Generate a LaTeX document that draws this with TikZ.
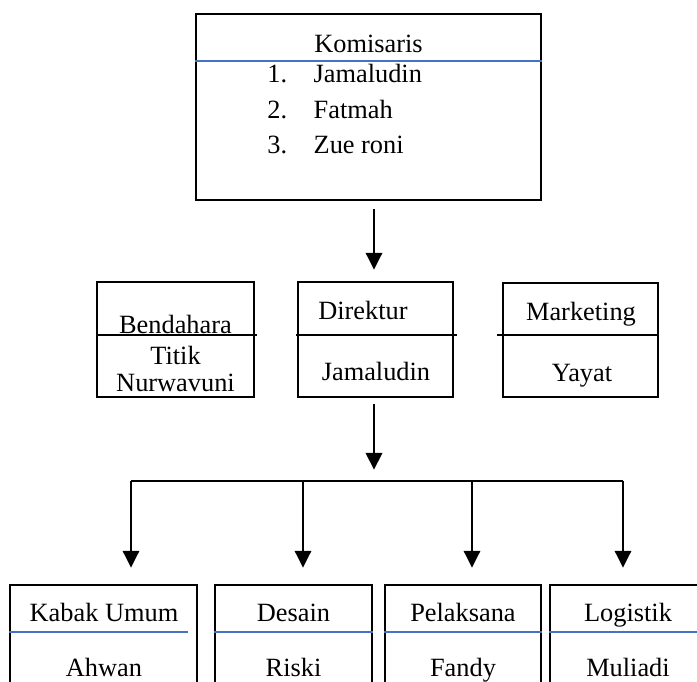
\documentclass[tikz,border=0pt]{standalone}
\usepackage{fontspec}
\setmainfont{Liberation Serif}
\usetikzlibrary{arrows.meta, positioning, calc}
\definecolor{lineblue}{RGB}{68,114,196}

\begin{document}
\begin{tikzpicture}[x=0.016cm, y=-0.016cm,
    box/.style={draw, line width=1pt, inner sep=0pt},
    lbl/.style={inner sep=0pt, anchor=base, font=\fontsize{12}{16}\selectfont},
    arr/.style={-{Triangle[length=2.7mm, width=2.6mm]}, line width=1.2pt},
    blueline/.style={lineblue, line width=1pt},
    blackline/.style={line width=1pt}]
    \clip (0,0) rectangle (697,682);

    % Komisaris
    \node[box, minimum width=5.52cm, minimum height=2.976cm] (kom) at (368.5,107) {};
    \draw[blueline] ($(kom.north west)+(0,48)$) -- ($(kom.north east)+(0,48)$);
    \node[lbl] (komT) at (368.5,53) {Komisaris};
    \node[lbl, anchor=base west] (komL) at (267,83) {%
        \begin{tabular}[t]{@{}p{0.74cm}@{}l@{}}
        1. & Jamaludin\\
        2. & Fatmah\\
        3. & Zue roni
        \end{tabular}};

    % Middle row
    \node[box, minimum width=2.512cm, minimum height=1.84cm] (bend) at (175.5,339.5) {};
    \node[box, minimum width=2.48cm, minimum height=1.84cm] (dir) at (375.5,339.5) {};
    \node[box, minimum width=2.48cm, minimum height=1.824cm] (mkt) at (580.5,340) {};
    \draw[blackline] ($(bend.north west)+(0,54)$) -- ($(bend.north east)+(2,54)$);
    \draw[blackline] ($(dir.north west)+(-1,54)$) -- ($(dir.north east)+(3,54)$);
    \draw[blackline] ($(mkt.north west)+(-5,53)$) -- ($(mkt.north east)+(0,53)$);
    \node[lbl] (bendT) at (175.5,334) {Bendahara};
    \node[lbl, anchor=center, align=center, font=\fontsize{12}{12.2}\selectfont] (bendN) at (175.5,369) {Titik\\Nurwavuni};
    \node[lbl] (dirT) at (363,320) {Direktur};
    \node[lbl] (dirN) at (376,381) {Jamaludin};
    \node[lbl] (mktT) at (581,321) {Marketing};
    \node[lbl] (mktN) at (582,382) {Yayat};

    % Bottom row
    \node[box, minimum width=2.992cm, minimum height=1.84cm] (kab) at (103.5,642.5) {};
    \node[box, minimum width=2.512cm, minimum height=1.84cm] (des) at (293.5,642.5) {};
    \node[box, minimum width=2.496cm, minimum height=1.84cm] (pel) at (463,642.5) {};
    \node[box, minimum width=2.4cm, minimum height=1.84cm] (logi) at (625,642.5) {};
    \draw[blueline] ($(kab.north west)+(0,48)$) -- ($(kab.north east)+(-10,48)$);
    \foreach \b in {des, pel, logi}
        \draw[blueline] ($(\b.north west)+(0,48)$) -- ($(\b.north east)+(0,48)$);
    \node[lbl] (kabT) at (104,622) {Kabak Umum};
    \node[lbl] (kabN) at (104,676) {Ahwan};
    \node[lbl] (desT) at (293.5,622) {Desain};
    \node[lbl] (desN) at (293.5,676) {Riski};
    \node[lbl] (pelT) at (463,622) {Pelaksana};
    \node[lbl] (pelN) at (463,676) {Fandy};
    \node[lbl] (logiT) at (628,622) {Logistik};
    \node[lbl] (logiN) at (628,676) {Muliadi};

    % Connectors
    \coordinate (bus) at (374,481);
    \coordinate (d1) at (131,481);
    \coordinate (d2) at (303,481);
    \coordinate (d3) at (472,481);
    \coordinate (d4) at (623,481);
    \draw[arr, shorten <=0.13cm, shorten >=0.18cm] (bus |- kom.south) -- (bus |- dir.north);
    \draw[arr, shorten <=0.1cm, shorten >=0.18cm] (bus |- dir.south) -- (bus);
    \draw[blackline] (d1) -- (d4);
    \foreach \d/\b in {d1/kab, d2/des, d3/pel, d4/logi}
        \draw[arr, shorten >=0.26cm] (\d) -- (\d |- \b.north);
\end{tikzpicture}
\end{document}
